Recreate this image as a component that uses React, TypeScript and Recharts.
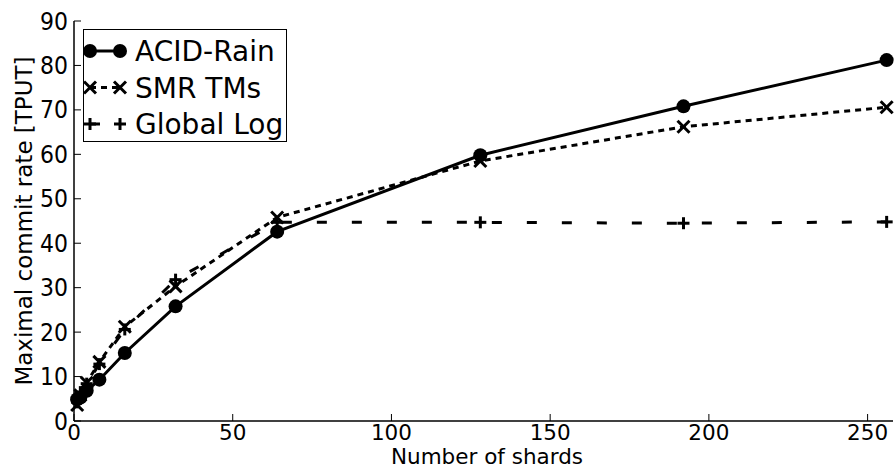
import React from 'react'
import { LineChart, Line, XAxis, YAxis, Legend } from 'recharts'

// shard counts on the x axis
const shards = [1, 2, 4, 8, 16, 32, 64, 128, 192, 256]

// commit rates per series [TPUT]
const acidRain = [4.9, 5.3, 6.8, 9.3, 15.3, 25.8, 42.6, 59.8, 70.8, 81.2]
const smrTMs = [3.6, 5.8, 8.6, 13.3, 21.2, 30.3, 45.8, 58.5, 66.2, 70.6]
const globalLog = [4.2, 6.5, 8.4, 12.8, 20.6, 31.8, 44.7, 44.7, 44.5, 44.8]

const xTicks = [0, 50, 100, 150, 200, 250]
const yTicks = [0, 10, 20, 30, 40, 50, 60, 70, 80, 90]

const data = shards.map((x, i) => ({
  x,
  acid: acidRain[i],
  smr: smrTMs[i],
  global: globalLog[i]
}))

const FONT = '"DejaVu Sans", sans-serif'

// markers
const CircleMark = ({ cx, cy }: any) => <circle cx={cx} cy={cy} r={7} fill="#000" />

const CrossMark = ({ cx, cy }: any) => (
  <g stroke="#000" strokeWidth={3} strokeLinecap="butt">
    <line x1={cx - 6} y1={cy - 6} x2={cx + 6} y2={cy + 6} />
    <line x1={cx - 6} y1={cy + 6} x2={cx + 6} y2={cy - 6} />
  </g>
)

const PlusMark = ({ cx, cy }: any) => (
  <g stroke="#000" strokeWidth={3}>
    <line x1={cx - 6} y1={cy} x2={cx + 6} y2={cy} />
    <line x1={cx} y1={cy - 6} x2={cx} y2={cy + 6} />
  </g>
)

// tick labels
const XTick = ({ x, y, payload }: any) => (
  <text x={x} y={y + 18.5} textAnchor="middle" fontSize={21.5} fontFamily={FONT} fill="#000">
    {payload.value}
  </text>
)

const YTick = ({ x, y, payload }: any) => (
  <text
    x={0}
    y={0}
    transform={`translate(${x},${y + 8.5}) scale(1,1.12)`}
    textAnchor="end"
    fontSize={22}
    fontFamily={FONT}
    fill="#000"
  >
    {payload.value}
  </text>
)

const legendItems = [
  { name: 'ACID-Rain', mark: CircleMark, dash: undefined },
  { name: 'SMR TMs', mark: CrossMark, dash: '6 5' },
  { name: 'Global Log', mark: PlusMark, dash: '10 25' }
]

const renderLegend = () => (
  <svg width={204} height={113} style={{ display: 'block' }}>
    <rect x={0.5} y={0.5} width={203} height={112} fill="#fff" stroke="#000" strokeWidth={1} />
    {legendItems.map((item, i) => {
      const cy = 22 + i * 36.5
      const Mark = item.mark
      return (
        <g key={item.name}>
          <line x1={7} y1={cy} x2={37} y2={cy} stroke="#000" strokeWidth={3} strokeDasharray={item.dash} />
          <Mark cx={7} cy={cy} />
          <Mark cx={37} cy={cy} />
          <text x={52} y={cy + 10} fontSize={28} fontFamily={FONT} fill="#000">
            {item.name}
          </text>
        </g>
      )
    })}
  </svg>
)

export default function App() {
  return (
    <div style={{ position: 'absolute', left: 0, top: 0, background: '#fff', fontFamily: FONT }}>
      <LineChart width={894} height={469} data={data} margin={{ top: 21, right: 1, bottom: 0, left: 0 }}>
        <XAxis
          dataKey="x"
          type="number"
          domain={[0, 258]}
          ticks={xTicks}
          interval={0}
          height={48}
          tickSize={-7}
          tickMargin={7}
          tick={<XTick />}
          axisLine={{ stroke: '#000', strokeWidth: 1.5 }}
          tickLine={{ stroke: '#000', strokeWidth: 1 }}
          label={(props: any) => (
            <text x={487} y={464} textAnchor="middle" fontSize={21.5} fontFamily={FONT} fill="#000">
              Number of shards
            </text>
          )}
        />
        <XAxis
          xAxisId="top"
          orientation="top"
          dataKey="x"
          type="number"
          domain={[0, 258]}
          ticks={xTicks}
          interval={0}
          height={0}
          tickSize={-7}
          tick={false}
          axisLine={{ stroke: '#000', strokeWidth: 1.5 }}
          tickLine={{ stroke: '#000', strokeWidth: 1 }}
        />
        <YAxis
          type="number"
          domain={[0, 90]}
          ticks={yTicks}
          interval={0}
          width={74}
          tickSize={-7}
          tickMargin={13}
          tick={<YTick />}
          axisLine={{ stroke: '#000', strokeWidth: 1.5 }}
          tickLine={{ stroke: '#000', strokeWidth: 1 }}
          label={(props: any) => (
            <text
              transform="translate(24,221) rotate(-90)"
              textAnchor="middle"
              dominantBaseline="central"
              fontSize={23}
              fontFamily={FONT}
              fill="#000"
            >
              Maximal commit rate [TPUT]
            </text>
          )}
        />
        <YAxis
          yAxisId="right"
          orientation="right"
          type="number"
          domain={[0, 90]}
          ticks={yTicks}
          interval={0}
          width={0}
          tickSize={-7}
          tick={false}
          axisLine={{ stroke: '#000', strokeWidth: 1.5 }}
          tickLine={{ stroke: '#000', strokeWidth: 1 }}
        />
        <Line
          dataKey="acid"
          name="ACID-Rain"
          stroke="#000"
          strokeWidth={3}
          isAnimationActive={false}
          dot={(p: any) => <CircleMark key={`a-${p.index}`} cx={p.cx} cy={p.cy} />}
          activeDot={false}
        />
        <Line
          dataKey="smr"
          name="SMR TMs"
          stroke="#000"
          strokeWidth={3}
          strokeDasharray="6 5"
          isAnimationActive={false}
          dot={(p: any) => <CrossMark key={`s-${p.index}`} cx={p.cx} cy={p.cy} />}
          activeDot={false}
        />
        <Line
          dataKey="global"
          name="Global Log"
          stroke="#000"
          strokeWidth={3}
          strokeDasharray="10 25"
          isAnimationActive={false}
          dot={(p: any) => <PlusMark key={`g-${p.index}`} cx={p.cx} cy={p.cy} />}
          activeDot={false}
        />
        <Legend
          layout="vertical"
          align="center"
          verticalAlign="middle"
          content={renderLegend}
          wrapperStyle={{ position: 'absolute', left: 83, top: 29, width: 204, height: 113 }}
        />
      </LineChart>
    </div>
  )
}
